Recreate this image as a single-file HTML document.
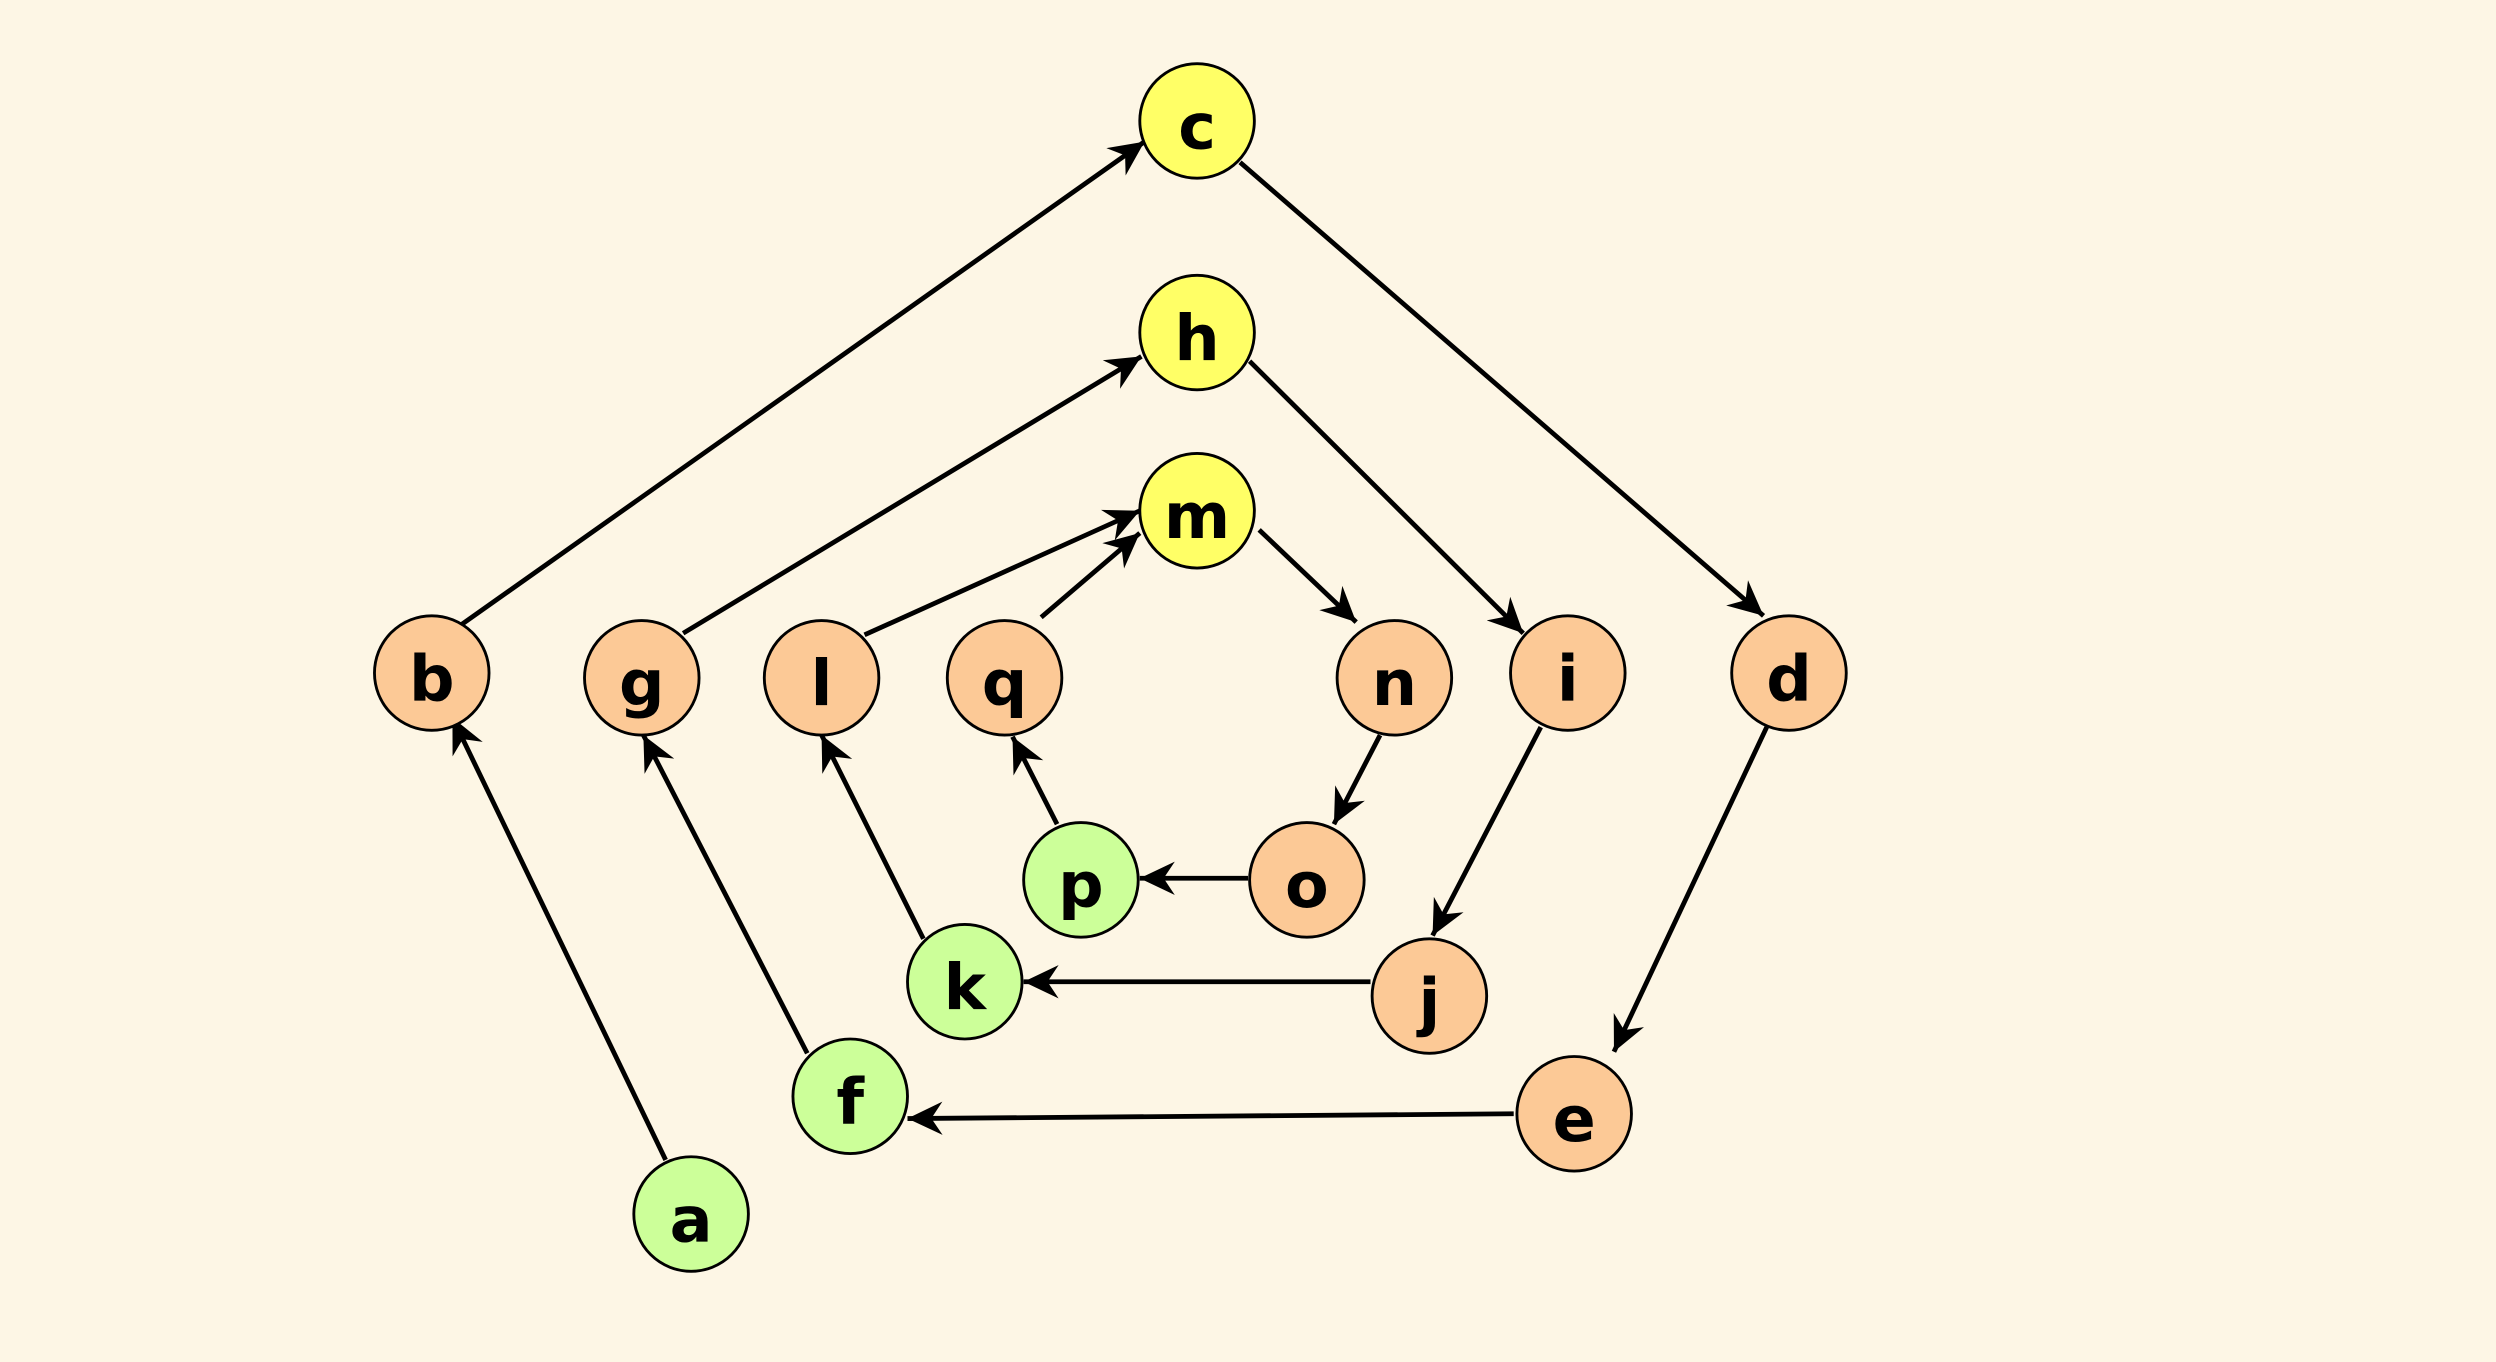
<!DOCTYPE html>
<html><head><meta charset="utf-8"><style>
html,body{margin:0;padding:0;background:#fdf6e5;}
svg{display:block}
text{font-family:"DejaVu Sans","Liberation Sans",sans-serif;font-weight:bold;font-size:40px;fill:#000;text-anchor:middle;dominant-baseline:central}
</style></head><body>
<svg width="2496" height="1362" viewBox="0 0 1568 856" xmlns="http://www.w3.org/2000/svg">
<defs>
<marker id="ar" markerUnits="userSpaceOnUse" markerWidth="24" markerHeight="24" viewBox="-22 -11 24 22" refX="0" refY="0" orient="auto">
<path d="M0,0 L-22,-10.5 L-15,0 L-22,10.5 Z" fill="#000"/>
</marker>
</defs>
<rect width="1568" height="856" fill="#fdf6e5"/>
<g stroke="#000" stroke-width="3" marker-end="url(#ar)" fill="none">
<line x1="289" y1="393" x2="719" y2="89"/>
<line x1="779" y1="102" x2="1108" y2="387"/>
<line x1="1110" y1="457" x2="1014" y2="661"/>
<line x1="951" y1="700" x2="570" y2="703"/>
<line x1="507" y1="662" x2="404" y2="462"/>
<line x1="429" y1="398" x2="717" y2="224"/>
<line x1="785" y1="227" x2="957" y2="398"/>
<line x1="968" y1="457" x2="900" y2="588"/>
<line x1="861" y1="617" x2="643" y2="617"/>
<line x1="580" y1="590" x2="516" y2="462"/>
<line x1="543" y1="399" x2="716" y2="321"/>
<line x1="791" y1="333" x2="852" y2="391"/>
<line x1="867" y1="462" x2="838" y2="518"/>
<line x1="784" y1="552" x2="716" y2="552"/>
<line x1="664" y1="518" x2="636" y2="463"/>
<line x1="654" y1="388" x2="716" y2="335"/>
<line x1="418" y1="729" x2="284" y2="451"/>
</g>
<g stroke="#000" stroke-width="1.8">
<circle cx="752" cy="76" r="36" fill="#ffff66"/>
<circle cx="752" cy="209" r="36" fill="#ffff66"/>
<circle cx="752" cy="321" r="36" fill="#ffff66"/>
<circle cx="271" cy="423" r="36" fill="#fcc996"/>
<circle cx="403" cy="426" r="36" fill="#fcc996"/>
<circle cx="516" cy="426" r="36" fill="#fcc996"/>
<circle cx="631" cy="426" r="36" fill="#fcc996"/>
<circle cx="876" cy="426" r="36" fill="#fcc996"/>
<circle cx="985" cy="423" r="36" fill="#fcc996"/>
<circle cx="1124" cy="423" r="36" fill="#fcc996"/>
<circle cx="821" cy="553" r="36" fill="#fcc996"/>
<circle cx="898" cy="626" r="36" fill="#fcc996"/>
<circle cx="989" cy="700" r="36" fill="#fcc996"/>
<circle cx="679" cy="553" r="36" fill="#ccff99"/>
<circle cx="606" cy="617" r="36" fill="#ccff99"/>
<circle cx="534" cy="689" r="36" fill="#ccff99"/>
<circle cx="434" cy="763" r="36" fill="#ccff99"/>
</g>
<g transform="translate(0,4)">
<text x="752" y="76">c</text>
<text x="752" y="209">h</text>
<text x="752" y="321">m</text>
<text x="271" y="423">b</text>
<text x="403" y="426">g</text>
<text x="516" y="426">l</text>
<text x="631" y="426">q</text>
<text x="876" y="426">n</text>
<text x="985" y="423">i</text>
<text x="1124" y="423">d</text>
<text x="821" y="553">o</text>
<text x="898" y="626">j</text>
<text x="989" y="700">e</text>
<text x="679" y="553">p</text>
<text x="606" y="617">k</text>
<text x="534" y="689">f</text>
<text x="434" y="763">a</text>
</g>
</svg>
</body></html>
